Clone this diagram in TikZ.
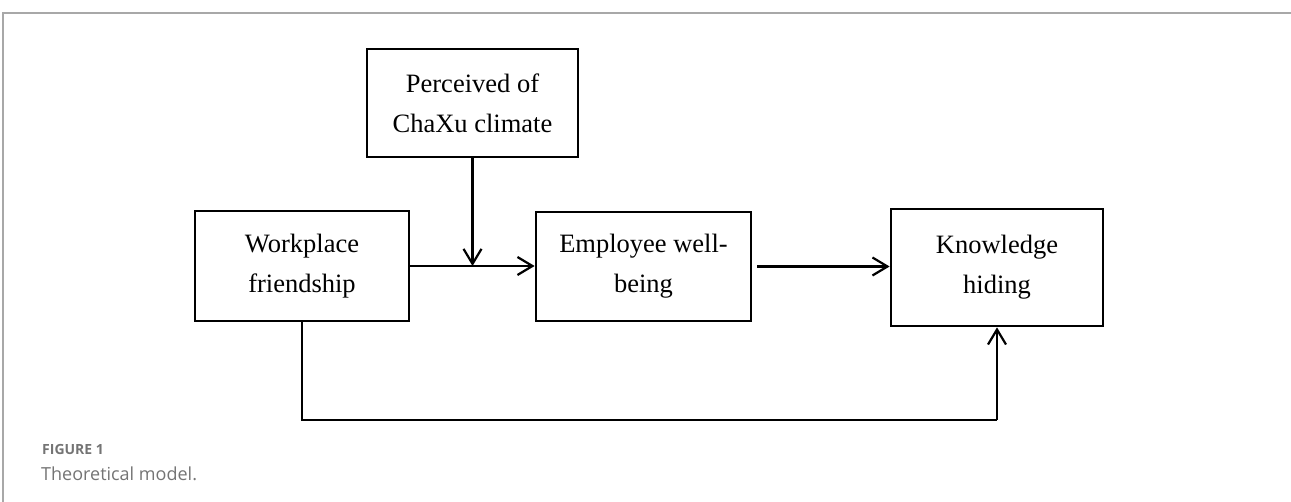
\documentclass[tikz,border=0pt]{standalone}
\usepackage{fontspec}
\setmainfont{Liberation Serif}
\newfontfamily\capfont{Open Sans}
\usetikzlibrary{arrows.meta,positioning,calc}
\definecolor{framegray}{HTML}{A8A8A8}
\definecolor{capgray}{HTML}{747474}
\begin{document}
\begin{tikzpicture}[x=1pt,y=-1pt,
  box/.style={draw=black,line width=2.8pt,minimum width=#1,inner sep=0pt,align=center,
    font=\fontsize{26.5}{40}\selectfont},
  link/.style={line width=2.2pt,-{Straight Barb[length=15pt,width=18pt,line width=2.2pt]}},
  plain/.style={line width=2.2pt}]
\useasboundingbox (0,0) rectangle (1291,502);
% frame lines
\draw[framegray,line width=1.6pt] (3,502) -- (3,13) -- (1291,13);
% boxes
\node[box=211pt,minimum height=108pt] (per) at (472.5,103) {Perceived of\\ChaXu climate};
\node[box=214pt,minimum height=110pt] (wf) at (302,266) {Workplace\\friendship};
\node[box=215pt,minimum height=109pt] (ew) at (643.5,266.5) {Employee well-\\being};
\node[box=212pt,minimum height=117pt] (kh) at (997,267.5) {Knowledge\\hiding};
% connectors
\coordinate (mid) at (per.south |- wf.east);
\draw[link] (wf.east) -- (ew.west |- wf.east);
\draw[link] (per.south) -- (mid);
\coordinate (ewout) at ([xshift=5pt]ew.east);
\draw[link] (ewout) -- (kh.west |- ewout);
\coordinate (lowl) at (302,420);
\coordinate (lowr) at (kh.south |- lowl);
\draw[plain] (wf.south) -- (lowl) -- (lowr);
\draw[link] (lowr) -- (kh.south);
% caption
\node[anchor=base west,inner sep=0pt,text=capgray,font=\capfont\bfseries\fontsize{14}{16}\selectfont] (fig) at (42,455) {FIGURE 1};
\node[anchor=base west,inner sep=0pt,text=capgray,font=\capfont\fontsize{18}{20}\selectfont] (cap) at (41,480) {Theoretical model.};
\end{tikzpicture}
\end{document}
